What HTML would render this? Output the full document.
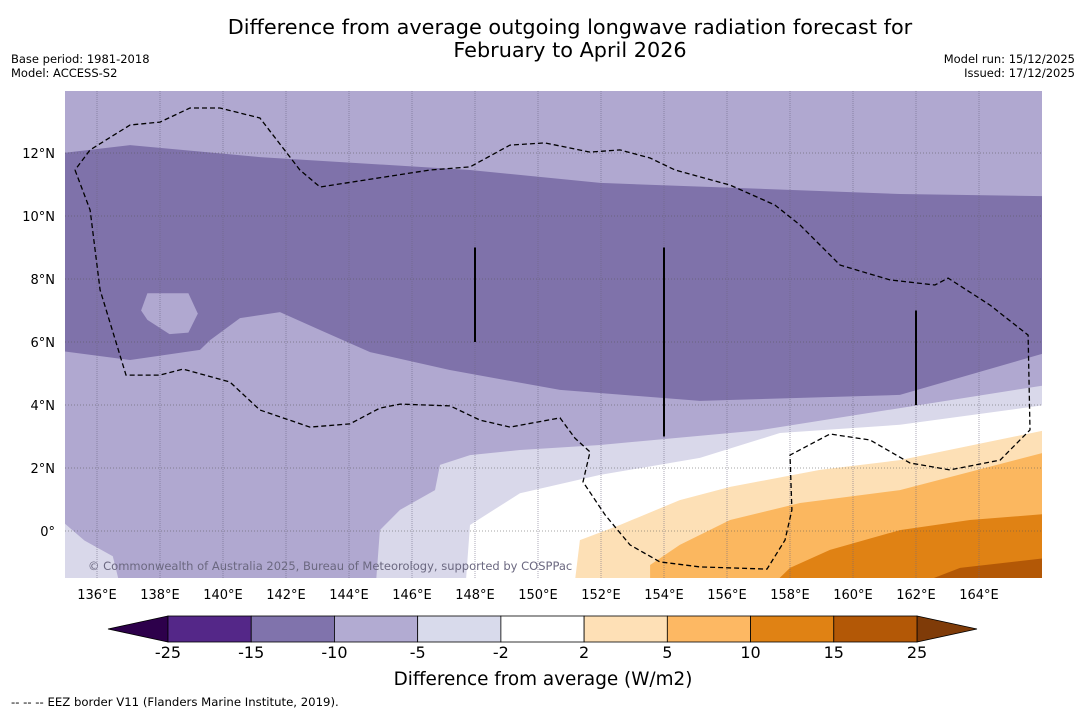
<!DOCTYPE html>
<html><head><meta charset="utf-8"><style>
body{margin:0;background:#fff;width:1085px;height:713px;overflow:hidden;font-family:"DejaVu Sans","Liberation Sans",sans-serif}
svg{position:absolute;left:0;top:0}
</style></head><body>
<svg id="c" width="1085" height="713"></svg>
<script>
// contour regions in [lon, lat]
const darkBand=[[134.9,12],[137.05,12.25],[141.17,11.87],[147.84,11.46],[151.97,11.05],[161.49,10.7],[166.1,10.63],[166.1,5.65],[161.49,4.32],[155.14,4.13],[150.7,4.48],[147.2,5.11],[144.67,5.68],[143.08,6.38],[141.81,6.95],[140.54,6.76],[139.59,6.06],[139.27,5.75],[137.05,5.43],[134.9,5.71]];
const hole=[[137.6,7.55],[138.9,7.55],[139.2,6.9],[138.9,6.3],[138.3,6.25],[137.6,6.7],[137.4,7.0]];
const veryLight=[[166.1,4.63],[161.49,3.9],[157.05,3.2],[151.97,2.73],[149.43,2.57],[147.84,2.41],[146.89,2.1],[146.73,1.3],[145.62,0.67],[144.98,0.03],[144.86,-1.6],[166.1,-1.6]];
const veryLightSW=[[134.9,0.3],[135.6,-0.3],[136.5,-0.8],[136.7,-1.6],[134.9,-1.6]];
const white=[[166.1,4.0],[161.49,3.37],[157.68,3.11],[155.14,2.32],[151.97,1.78],[149.43,1.2],[147.84,0.19],[147.71,-1.6],[166.1,-1.6]];
const paleOrange=[[166.1,3.2],[161.49,2.25],[158.95,1.94],[156.1,1.4],[154.5,0.98],[152.6,0.19],[151.33,-0.29],[151.17,-1.6],[166.1,-1.6]];
const lightOrange=[[166.1,2.5],[161.49,1.3],[158.32,0.89],[156.1,0.35],[154.5,-0.44],[153.56,-1.08],[153.56,-1.6],[166.1,-1.6]];
const orange=[[166.1,0.54],[163.71,0.35],[161.49,0.03],[159.27,-0.6],[158.0,-1.17],[157.56,-1.6],[166.1,-1.6]];
const darkOrange=[[166.1,-0.86],[163.4,-1.17],[162.29,-1.6],[166.1,-1.6]];
const eez=[[135.30,11.46],[135.78,10.19],[136.10,7.65],[136.92,4.95],[138.0,4.95],[138.73,5.14],[140.22,4.73],[141.17,3.84],[142.76,3.30],[144.03,3.40],[144.98,3.90],[145.62,4.03],[147.21,3.97],[148.16,3.52],[149.11,3.30],[150.70,3.59],[151.17,2.95],[151.65,2.51],[151.43,1.56],[152.13,0.51],[152.92,-0.44],[153.87,-0.98],[155.14,-1.14],[157.27,-1.21],[157.84,-0.29],[158.06,0.67],[158.0,2.41],[159.27,3.08],[160.54,2.89],[161.81,2.16],[163.08,1.94],[164.67,2.25],[165.62,3.21],[165.56,6.22],[164.35,7.17],[163.02,8.03],[162.60,7.81],[161.17,7.97],[159.59,8.44],[158.32,9.71],[157.52,10.35],[156.10,10.98],[154.35,11.46],[153.56,11.84],[152.60,12.10],[151.65,12.03],[150.22,12.32],[149.11,12.25],[147.84,11.56],[146.57,11.46],[143.08,10.92],[142.44,11.46],[141.17,13.11],[139.90,13.43],[138.95,13.43],[138.0,12.98],[137.05,12.89],[135.78,12.10],[135.30,11.46]];
const segs=[[148,9,6],[154,9,3],[162,7,4]];
const lonTicks=[136,138,140,142,144,146,148,150,152,154,156,158,160,162,164];
const latTicks=[0,2,4,6,8,10,12];
const cbLevels=["-25","-15","-10","-5","-2","2","5","10","15","25"];
const cbColors=["#542788","#8073ac","#b2abd2","#d8daeb","#ffffff","#fee0b6","#fdb863","#e08214","#b35806"];

const X=lon=>97+(lon-136)*31.5, Y=lat=>531-lat*31.5;
const NS="http://www.w3.org/2000/svg", svg=document.getElementById('c');
function mk(t,a,p){const e=document.createElementNS(NS,t);for(const k in a)e.setAttribute(k,a[k]);(p||svg).appendChild(e);return e;}
function txt(s,x,y,size,anchor,fill,name){const e=mk('text',{x:x,y:y,'font-size':size,'text-anchor':anchor||'start',fill:fill||'#000'});e.textContent=s;


return e;}
const pts=a=>a.map(p=>X(p[0]).toFixed(1)+','+Y(p[1]).toFixed(1)).join(' ');

const cl=mk('clipPath',{id:'mc'});mk('rect',{x:65,y:91,width:977,height:487},cl);
const g=mk('g',{'clip-path':'url(#mc)'});


mk('rect',{x:65,y:91,width:977,height:487,fill:'#b0a8d0'},g);
const regions=[[darkBand,'#7f72aa','band-minus15'],[hole,'#b0a8d0','patch-minus10'],[veryLight,'#d9d8ea','band-minus5'],[veryLightSW,'#d9d8ea','patch-minus5'],[white,'#ffffff','band-neutral'],[paleOrange,'#fde0b6','band-plus2'],[lightOrange,'#fbb75f','band-plus5'],[orange,'#e08214','band-plus10'],[darkOrange,'#b35806','band-plus15']];
regions.forEach(r=>{const e=mk('polygon',{points:pts(r[0]),fill:r[1]},g);

});
lonTicks.forEach(l=>{mk('line',{x1:X(l),x2:X(l),y1:91,y2:578,stroke:'#6b6580','stroke-width':0.8,'stroke-dasharray':'1,1','stroke-opacity':0.7},g);});
latTicks.forEach(l=>{mk('line',{x1:65,x2:1042,y1:Y(l),y2:Y(l),stroke:'#555','stroke-width':0.8,'stroke-dasharray':'1,2','stroke-opacity':0.7},g);});
const ez=mk('polyline',{points:pts(eez),fill:'none',stroke:'#000','stroke-width':1.3,'stroke-dasharray':'5,3'},g);


segs.forEach(s=>mk('line',{x1:X(s[0]),x2:X(s[0]),y1:Y(s[1]),y2:Y(s[2]),stroke:'#000','stroke-width':2},g));
txt('© Commonwealth of Australia 2025, Bureau of Meteorology, supported by COSPPac',88,570,11.5,'start','#6b6880','copyright-note');

lonTicks.forEach(l=>txt(l+'°E',X(l),599,13,'middle','#000','lon-tick-label'));
latTicks.forEach(l=>txt(l===0?'0°':l+'°N',55,Y(l)+5,13,'end','#000','lat-tick-label'));

txt('Difference from average outgoing longwave radiation forecast for',570,34,20.8,'middle','#000','chart-title');
txt('February to April 2026',570,57,20.8,'middle','#000','chart-title-line2');
txt('Base period: 1981-2018',11,63,11.5,'start','#000','base-period');
txt('Model: ACCESS-S2',11,77,11.5,'start','#000','model-name');
txt('Model run: 15/12/2025',1075,63,11.5,'end','#000','model-run');
txt('Issued: 17/12/2025',1075,77,11.5,'end','#000','issued-date');

// colorbar
const cb0=168,cbW=(917-168)/cbColors.length,cy0=616,cy1=642;
const lt=mk('polygon',{points:`108,629 ${cb0},${cy0} ${cb0},${cy1}`,fill:'#2d004b',stroke:'#000','stroke-width':0.8});


const rt=mk('polygon',{points:`977,629 917,${cy0} 917,${cy1}`,fill:'#7f3b08',stroke:'#000','stroke-width':0.8});


cbColors.forEach((c,i)=>{const r=mk('rect',{x:cb0+i*cbW,y:cy0,width:cbW,height:cy1-cy0,fill:c,stroke:'#000','stroke-width':0.8});

});
cbLevels.forEach((s,i)=>txt(s,cb0+i*cbW,658,16,'middle','#000','colorbar-tick-label'));
txt('Difference from average (W/m2)',543,685,18.4,'middle','#000','colorbar-title');
txt('--  --  -- EEZ border V11 (Flanders Marine Institute, 2019).',11,706,11.7,'start','#000','eez-legend').setAttribute('xml:space','preserve');
</script>
</body></html>
